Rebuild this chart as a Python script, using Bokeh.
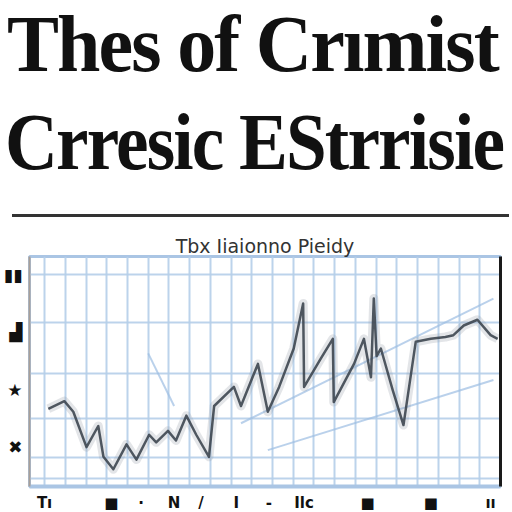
from bokeh.plotting import figure
from bokeh.models import Div, FixedTicker, LinearAxis, Range1d
from bokeh.layouts import column
from bokeh.embed import file_html
from bokeh.resources import INLINE

# ---- texts ----
title_line1 = "Thes of Crımist"
title_line2 = "Crresic EStrrisie"
chart_title = "Tbx Iiaionno Pieidy"

# ---- main series ----
series_x = [4.0, 7.4, 9.3, 12.1, 14.6, 15.7, 17.8, 20.6, 22.7, 25.4, 26.9, 29.4,
            31.1, 33.3, 35.4, 38.1, 39.2, 43.4, 44.9, 48.5, 50.6, 53.0, 56.1, 58.1,
            58.3, 61.9, 64.4, 64.6, 68.9, 71.0, 72.5, 73.1, 73.7, 74.6, 77.1, 79.4,
            82.0, 85.2, 88.3, 90.0, 92.2, 95.1, 97.9, 99.4]
series_y = [33.8, 37.1, 32.5, 17.1, 26.3, 12.9, 7.5, 18.3, 11.7, 22.5, 19.2, 24.2,
            20.0, 30.8, 22.5, 12.9, 35.0, 43.3, 35.0, 53.3, 32.5, 43.3, 60.0, 79.6,
            43.3, 55.8, 64.2, 36.7, 53.3, 64.2, 47.5, 81.7, 56.7, 60.0, 42.0, 26.7,
            62.9, 64.2, 65.0, 65.8, 70.0, 72.5, 65.8, 64.2]

# faint trend lines
trend_a_x = [50.6, 98.5]
trend_a_y = [15.8, 46.3]
trend_b_x = [44.9, 98.5]
trend_b_y = [27.5, 81.7]
trend_c_x = [25.2, 30.7]
trend_c_y = [57.9, 35.0]

# ---- tick labels ----
y_tick_values = [17, 42, 67, 92]
y_tick_labels = ["✖", "★", "▟", "▮▮"]
x_tick_values = [3.2, 17.4, 23.7, 30.7, 36.4, 43.9, 50.8, 58.3, 71.8, 85.2, 97.9]
x_tick_labels = ["Tı", "■", "·", "N", "/", "I", "-", "Ilc", "■", "■", "ıı"]

# grid positions
xgrid_pos = [3.2, 7.6, 12.0, 16.4, 20.8, 25.2, 29.6, 34.0, 38.4, 42.8, 47.2, 51.6,
             56.0, 60.4, 64.8, 69.2, 73.6, 78.0, 82.4, 86.8, 91.2, 95.6]
ygrid_pos = [3.3, 12.5, 29.6, 49.2, 71.3, 92.1]

header_html = f"""
<div style="position:relative;width:504px;height:222px;overflow:visible;
 font-family:'Liberation Serif','Times New Roman',serif;font-weight:bold;color:#111;">
 <div style="position:absolute;left:2px;top:-6px;font-size:80px;line-height:90px;
   letter-spacing:-2px;white-space:nowrap;transform:scaleX(0.975);
   transform-origin:0 0;">{title_line1}</div>
 <div style="position:absolute;left:0px;top:92px;font-size:80px;line-height:90px;
   letter-spacing:-2px;white-space:nowrap;transform:scaleX(0.915);
   transform-origin:0 0;">{title_line2}</div>
 <div style="position:absolute;left:7px;top:209px;width:497px;height:3px;background:#333;"></div>
</div>
"""
header = Div(text=header_html, width=504, height=222)

p = figure(width=504, height=282, output_backend="svg", toolbar_location=None,
           x_range=Range1d(0, 100), y_range=Range1d(0, 100),
           min_border_left=18, min_border_right=4, min_border_top=0,
           min_border_bottom=0, title=chart_title)
p.title.text_font = "DejaVu Sans"
p.title.text_font_size = "19px"
p.title.text_font_style = "normal"
p.title.text_color = "#333333"
p.title.align = "center"
p.title.standoff = 0
p.title.offset = 0

p.background_fill_color = "white"
p.border_fill_color = "white"
p.outline_line_color = "#aac5e4"
p.outline_line_width = 3

# grid
p.xgrid.ticker = FixedTicker(ticks=xgrid_pos)
p.ygrid.ticker = FixedTicker(ticks=ygrid_pos)
for g in (p.xgrid, p.ygrid):
    g.grid_line_color = "#b5cee9"
    g.grid_line_width = 2
    g.grid_line_alpha = 0.9

# y axis
p.yaxis.ticker = FixedTicker(ticks=y_tick_values)
p.yaxis.major_label_overrides = {v: l for v, l in zip(y_tick_values, y_tick_labels)}
p.yaxis.major_label_text_font = "DejaVu Sans"
p.yaxis.major_label_text_font_size = "17px"
p.yaxis.major_label_text_font_style = "bold"
p.yaxis.major_label_text_color = "#111"
p.yaxis.major_label_standoff = 1
p.yaxis.major_tick_line_color = None
p.yaxis.minor_tick_line_color = None
p.yaxis.axis_line_color = "#a89f98"
p.yaxis.axis_line_width = 2

# x axis
p.xaxis.ticker = FixedTicker(ticks=x_tick_values)
p.xaxis.major_label_overrides = {v: l for v, l in zip(x_tick_values, x_tick_labels)}
p.xaxis.major_label_text_font = "DejaVu Sans"
p.xaxis.major_label_text_font_size = "15px"
p.xaxis.major_label_text_font_style = "bold"
p.xaxis.major_label_text_color = "#111"
p.xaxis.major_label_standoff = 1
p.xaxis.major_tick_line_color = None
p.xaxis.minor_tick_line_color = None
p.xaxis.axis_line_color = "#aac5e4"
p.xaxis.axis_line_width = 4

# right dark edge
right_axis = LinearAxis(ticker=FixedTicker(ticks=[]), axis_line_color="#1a1a1a",
                        axis_line_width=3, major_tick_line_color=None,
                        minor_tick_line_color=None, major_label_text_font_size="0px")
p.add_layout(right_axis, "right")

# trend lines
for tx, ty in ((trend_a_x, trend_a_y), (trend_b_x, trend_b_y), (trend_c_x, trend_c_y)):
    p.line(tx, ty, line_color="#9dbde3", line_width=2, line_alpha=0.7)

# main series: soft brush + dark stroke
p.line(series_x, series_y, line_color="#8e99a3", line_width=9, line_alpha=0.25,
       line_join="round")
p.line(series_x, series_y, line_color="#3d4650", line_width=2.5, line_alpha=0.9,
       line_join="round")

layout = column(header, p, spacing=0)
open("out.html", "w").write(file_html(layout, INLINE))
